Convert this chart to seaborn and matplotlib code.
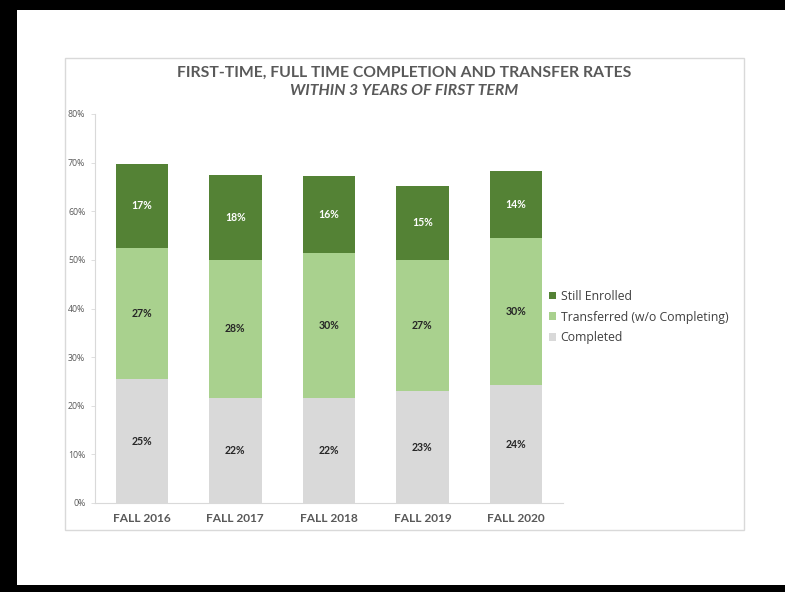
import matplotlib
matplotlib.use("Agg")
import matplotlib.pyplot as plt
from matplotlib.patches import Rectangle, Patch
from matplotlib.ticker import FuncFormatter
import numpy as np
import pandas as pd
import seaborn as sns

# Cohort data (percent of first-time, full-time students)
cohorts = ["FALL 2016", "FALL 2017", "FALL 2018", "FALL 2019", "FALL 2020"]
completed = [25.4, 21.6, 21.6, 23.0, 24.2]
transferred = [27.1, 28.4, 29.8, 27.0, 30.4]
still_enrolled = [17.3, 17.5, 15.9, 15.2, 13.7]

series_names = ["Completed", "Transferred (w/o Completing)", "Still Enrolled"]
series_colors = ["#d9d9d9", "#a9d18e", "#548235"]
label_colors = ["#262626", "#262626", "#ffffff"]

sns.set_theme(style="white")
plt.rcParams["font.family"] = ["Open Sans", "DejaVu Sans"]
BOLD_FAMILY = ["Lato", "DejaVu Sans"]

df = pd.DataFrame({
    "cohort": cohorts,
    "Completed": completed,
    "Transferred (w/o Completing)": transferred,
    "Still Enrolled": still_enrolled,
})
vals = df[series_names].to_numpy()
tops = np.cumsum(vals, axis=1)
bottoms = tops - vals

fig = plt.figure(figsize=(7.85, 5.92), dpi=100)
W, H = 785, 592

# outer frame bands
for (x0, y0, w, h) in [(0, 0, W, 10), (0, 0, 17, H), (0, 585, W, 7)]:
    fig.patches.append(Rectangle((x0 / W, 1 - (y0 + h) / H), w / W, h / H,
                                 transform=fig.transFigure, facecolor="black",
                                 edgecolor="none", zorder=-2))
# chart area border
fig.patches.append(Rectangle((65 / W, 1 - 530 / H), (744 - 65) / W, (530 - 58) / H,
                             transform=fig.transFigure, facecolor="white",
                             edgecolor="#d9d9d9", lw=1.0, zorder=-1))

ax = fig.add_axes([95 / W, 1 - 503 / H, (562.7 - 95) / W, (503 - 114) / H])
ax.set_zorder(2)
ax.set_facecolor("none")

# stacked bars drawn as overlapping cumulative totals, tallest first
for i in range(len(series_names) - 1, -1, -1):
    plot_df = pd.DataFrame({"cohort": cohorts, "top": tops[:, i]})
    sns.barplot(data=plot_df, x="cohort", y="top", color=series_colors[i],
                saturation=1, width=0.56, ax=ax, linewidth=0, zorder=2 + (2 - i))

# segment labels
for j in range(len(cohorts)):
    for i in range(len(series_names)):
        ax.text(j, bottoms[j, i] + vals[j, i] / 2, f"{vals[j, i]:.0f}%",
                ha="center", va="center", fontsize=7.6, fontweight="bold",
                family=BOLD_FAMILY, color=label_colors[i], zorder=10)

ax.set_xlim(-0.5, len(cohorts) - 0.5)
ax.set_ylim(0, 80)
ax.set_yticks(np.arange(0, 81, 10))
ax.yaxis.set_major_formatter(FuncFormatter(lambda v, p: f"{v:.0f}%"))
ax.set_xlabel("")
ax.set_ylabel("")

for s in ["top", "right"]:
    ax.spines[s].set_visible(False)
for s in ["left", "bottom"]:
    ax.spines[s].set_color("#d9d9d9")
    ax.spines[s].set_linewidth(0.8)
ax.tick_params(axis="y", labelsize=6.3, labelcolor="#595959", length=3,
               width=0.6, color="#d9d9d9", left=True, pad=4)
ax.tick_params(axis="x", length=0, pad=7)
for lbl in ax.get_xticklabels():
    lbl.set_fontsize(8.6)
    lbl.set_fontweight("bold")
    lbl.set_family(BOLD_FAMILY)
    lbl.set_color("#595959")

# title
fig.text(404 / W, 1 - 73 / H, "FIRST-TIME, FULL TIME COMPLETION AND TRANSFER RATES",
         ha="center", va="center", fontsize=11.3, fontweight="bold",
         family=BOLD_FAMILY, color="#595959")
fig.text(404 / W, 1 - 91 / H, "WITHIN 3 YEARS OF FIRST TERM",
         ha="center", va="center", fontsize=11.3, fontweight="bold",
         fontstyle="italic", family=BOLD_FAMILY, color="#595959")

# legend
handles = [Patch(facecolor=series_colors[i], edgecolor="none", label=series_names[i])
           for i in range(len(series_names) - 1, -1, -1)]
fig.legend(handles=handles, loc="center left", bbox_to_anchor=(549 / W, 1 - 317 / H),
           frameon=False, fontsize=8.8, handlelength=0.6, handleheight=0.6,
           handletextpad=0.35, labelspacing=0.62, labelcolor="#404040",
           borderaxespad=0, borderpad=0)

fig.savefig("out.png", dpi=100)
